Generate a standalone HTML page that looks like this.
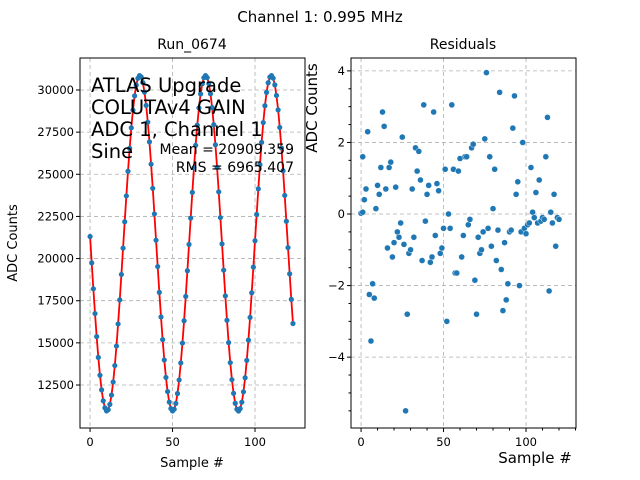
<!DOCTYPE html>
<html><head><meta charset="utf-8"><style>
body{margin:0;background:#fff}
svg{display:block;font-family:"DejaVu Sans","Liberation Sans",sans-serif}
</style></head><body>
<svg id="fig" width="640" height="480" viewBox="0 0 640 480">
<rect width="640" height="480" fill="#fff"/>
<text x="320" y="22" font-size="15" text-anchor="middle">Channel 1: 0.995 MHz</text>
<text x="192" y="49" font-size="14" text-anchor="middle">Run_0674</text>
<text x="463" y="49" font-size="14" text-anchor="middle">Residuals</text>
<g id="left"></g>
<g id="right"></g>
<text x="91" y="92" font-size="19.5">ATLAS Upgrade</text>
<text x="91" y="114" font-size="19.5">COLUTAv4 GAIN</text>
<text x="91" y="136" font-size="19.5">ADC 1, Channel 1</text>
<text x="91" y="158" font-size="19.5">Sine</text>
<text x="294" y="154" font-size="14" text-anchor="end">Mean = 20909.359</text>
<text x="294" y="172" font-size="14" text-anchor="end">RMS = 6965.407</text>
<text x="192" y="467" font-size="13" text-anchor="middle">Sample #</text>
<text transform="translate(17,243) rotate(-90)" font-size="13" text-anchor="middle">ADC Counts</text>
<text x="535" y="463" font-size="15" text-anchor="middle">Sample #</text>
<text transform="translate(317,108) rotate(-90)" font-size="15" text-anchor="middle">ADC Counts</text>
</svg>
<script>
const resX = [0,1,1,2,3,4,5,6,7,8,9,10,11,12,13,14,15,16,17,18,19,20,21,22,23,24,25,26,27,28,29,30,31,32,33,34,35,36,37,38,39,40,41,42,43,44,45,46,47,48,49,50,51,52,53,54,55,56,57,58,59,60,61,62,63,64,65,66,67,68,69,70,71,72,73,74,75,76,77,78,79,80,81,82,83,84,85,86,87,88,89,90,91,92,93,94,95,96,97,98,99,100,101,102,103,104,105,106,107,108,109,110,111,112,113,114,115,116,117,118,119,120];
const resY = [0.02,0.05,1.6,0.4,0.7,2.3,-2.25,-3.55,-1.95,-2.35,0.15,0.8,0.55,1.3,2.85,2.45,0.7,-0.95,1.3,1.45,-1.2,-0.8,0.75,-0.5,-0.65,-0.25,2.15,-0.85,-5.5,-2.8,-1.1,-1.0,0.7,-0.65,1.85,1.2,1.75,0.95,-1.3,3.05,-0.2,0.55,0.8,-1.35,-1.2,2.85,-0.6,0.85,0.65,-1.1,-0.95,-0.4,1.25,-3.0,0.0,-0.4,3.05,1.25,-1.65,-1.65,1.2,1.55,-1.2,-0.6,1.6,1.6,-0.3,-0.15,1.85,1.95,-1.85,-2.8,-0.65,-1.1,-1.0,-0.5,2.1,3.95,-0.4,1.6,-0.9,0.15,1.25,-1.3,-0.45,3.4,-1.55,-2.7,-0.8,-2.4,-1.95,-0.5,-0.45,2.4,3.3,0.55,0.9,-2.0,-0.5,2.0,-0.4,-0.55,-0.3,-0.25,1.3,0.05,-0.1,0.6,-0.25,0.95,-0.2,-0.1,-0.15,1.6,2.7,-2.15,0.05,-0.25,0.55,-0.9,-0.1,-0.15];
const fitMean = [20909];
const fitAmp = [9950];
const fitPeriod = [39.86];
const fitPeak = [30.15];
const nSamples = [124];
const leftYTicks = [12500,15000,17500,20000,22500,25000,27500,30000];
const xTicks = [0,50,100];
const rightYTicks = [-4,-2,0,2,4];

const NS="http://www.w3.org/2000/svg";
function mk(p,t,a){const e=document.createElementNS(NS,t);for(const k in a)e.setAttribute(k,a[k]);p.appendChild(e);return e;}
function fitVal(x){return fitMean[0]+fitAmp[0]*Math.cos(2*Math.PI*(x-fitPeak[0])/fitPeriod[0]);}

const L={x0:80,x1:305,y0:58,y1:428,xmin:-6.1,xmax:130.3,ymin:9949,ymax:31898};
const lx=v=>L.x0+(v-L.xmin)/(L.xmax-L.xmin)*(L.x1-L.x0);
const ly=v=>L.y1-(v-L.ymin)/(L.ymax-L.ymin)*(L.y1-L.y0);
const R={x0:351,x1:576,y0:58,y1:428,xmin:-6.1,xmax:130.3,ymin:-5.98,ymax:4.36};
const rx=v=>R.x0+(v-R.xmin)/(R.xmax-R.xmin)*(R.x1-R.x0);
const ry=v=>R.y1-(v-R.ymin)/(R.ymax-R.ymin)*(R.y1-R.y0);

const gl=document.getElementById('left'), gr=document.getElementById('right');
xTicks.forEach(t=>{
  let e=mk(gl,'line',{x1:lx(t),x2:lx(t),y1:L.y0,y2:L.y1,stroke:'#b0b0b0','stroke-dasharray':'4,3','stroke-width':0.8});
  
  
  e=mk(gr,'line',{x1:rx(t),x2:rx(t),y1:R.y0,y2:R.y1,stroke:'#b0b0b0','stroke-dasharray':'4,3','stroke-width':0.8});
  
  
});
leftYTicks.forEach(t=>{
  const e=mk(gl,'line',{x1:L.x0,x2:L.x1,y1:ly(t),y2:ly(t),stroke:'#b0b0b0','stroke-dasharray':'4,3','stroke-width':0.8});
  
  
});
rightYTicks.forEach(t=>{
  const e=mk(gr,'line',{x1:R.x0,x2:R.x1,y1:ry(t),y2:ry(t),stroke:'#b0b0b0','stroke-dasharray':'4,3','stroke-width':0.8});
  
  
});
let d='';
for(let i=0;i<nSamples[0];i++){d+=(i?'L':'M')+lx(i).toFixed(2)+','+ly(fitVal(i)).toFixed(2);}
const fl=mk(gl,'path',{d:d,fill:'none',stroke:'#ff0000','stroke-width':1.8});


for(let i=0;i<nSamples[0];i++){
  const k=resX.indexOf(i);
  const v=fitVal(i)+(k>=0?resY[k]:0);
  const c=mk(gl,'circle',{cx:lx(i),cy:ly(v),r:2.6,fill:'#1f77b4'});
  
  
}
resX.forEach((x,i)=>{
  const c=mk(gr,'circle',{cx:rx(x),cy:ry(resY[i]),r:3,fill:'#1f77b4',stroke:'#fff','stroke-width':0.4});
  
  
});
[[gl,L],[gr,R]].forEach(([g,A])=>{
  const f=mk(g,'rect',{x:A.x0,y:A.y0,width:A.x1-A.x0,height:A.y1-A.y0,fill:'none',stroke:'#000','stroke-width':1});
  
  
});
xTicks.forEach(t=>{
  mk(gl,'line',{x1:lx(t),x2:lx(t),y1:L.y1,y2:L.y1+4,stroke:'#000'});
  const e=mk(gl,'text',{x:lx(t),y:L.y1+18,'font-size':11.5,'text-anchor':'middle'});e.textContent=t;
  
  
});
leftYTicks.forEach(t=>{
  mk(gl,'line',{x1:L.x0-4,x2:L.x0,y1:ly(t),y2:ly(t),stroke:'#000'});
  const e=mk(gl,'text',{x:L.x0-6,y:ly(t)+4,'font-size':11.5,'text-anchor':'end'});e.textContent=t;
  
  
});
for(let t=0;t<=130;t+=10){
  mk(gr,'line',{x1:rx(t),x2:rx(t),y1:R.y1,y2:R.y1+(t%50?2.5:4),stroke:'#000'});
}
xTicks.forEach(t=>{
  const e=mk(gr,'text',{x:rx(t),y:R.y1+18,'font-size':11.5,'text-anchor':'middle'});e.textContent=t;
  
  
});
for(let t=-5.5;t<=4.3;t+=0.5){
  mk(gr,'line',{x1:R.x0-(Number.isInteger(t/2)?4:2.5),x2:R.x0,y1:ry(t),y2:ry(t),stroke:'#000'});
}
rightYTicks.forEach(t=>{
  const e=mk(gr,'text',{x:R.x0-6,y:ry(t)+4,'font-size':11.5,'text-anchor':'end'});e.textContent=(t<0?'\u2212'+(-t):t);
  
  
});
</script>
</body></html>
